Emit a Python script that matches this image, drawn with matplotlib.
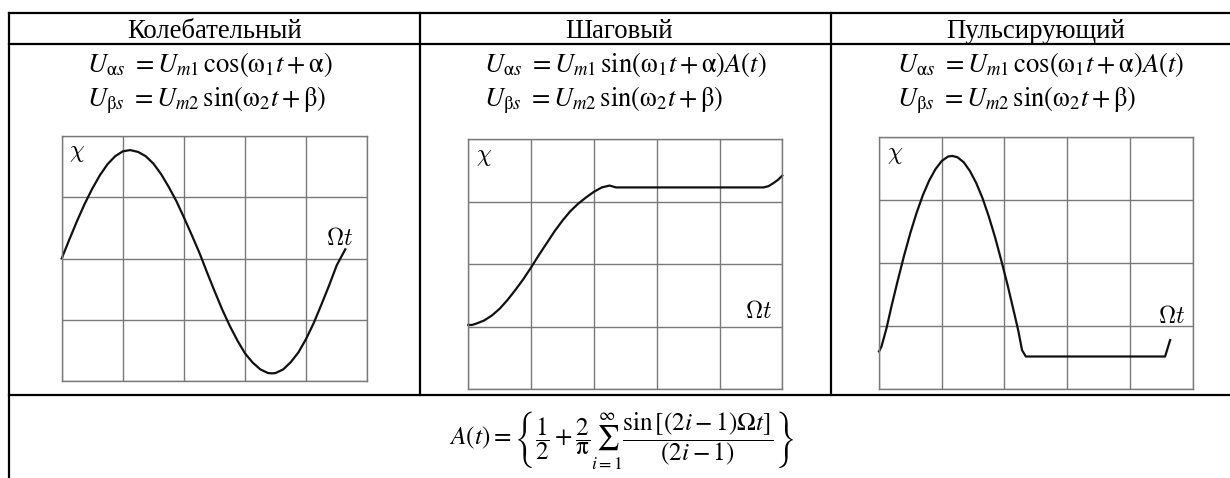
import matplotlib
matplotlib.use('Agg')
from matplotlib import pyplot as plt

plt.rcParams['font.family'] = ['Liberation Serif', 'DejaVu Serif']
plt.rcParams['mathtext.fontset'] = 'stix'

W, H = 1230, 478

headers = ['Колебательный', 'Шаговый', 'Пульсирующий']
formulas_a = [
    r'$U_{\mathrm{\alpha}s}\ =U_{m1}\,\cos(\mathrm{\omega}_1 t+\mathrm{\alpha})$',
    r'$U_{\mathrm{\alpha}s}\ =U_{m1}\,\sin(\mathrm{\omega}_1 t+\mathrm{\alpha})A(t)$',
    r'$U_{\mathrm{\alpha}s}\ =U_{m1}\,\cos(\mathrm{\omega}_1 t+\mathrm{\alpha})A(t)$',
]
formulas_b = [r'$U_{\mathrm{\beta}s}\ =U_{m2}\,\sin(\mathrm{\omega}_2 t+\mathrm{\beta})$'] * 3
sum_formula = (r'$A(t)=\left\{\dfrac{1}{2}+\dfrac{2}{\mathrm{\pi}}\sum_{i=1}^{\infty}'
               r'\dfrac{\sin\left[(2i-1)\Omega t\right]}{(2i-1)}\right\}$')

# curves (grid units: 5 cells wide, 4 cells high)
osc_x = [0, 0.125, 0.25, 0.375, 0.5, 0.625, 0.75, 0.875, 1.0, 1.12, 1.25, 1.375,
         1.5, 1.625, 1.75, 1.875, 2.0, 2.125, 2.25, 2.29, 2.375, 2.5, 2.625, 2.75,
         2.875, 3.0, 3.125, 3.25, 3.375, 3.44, 3.5, 3.625, 3.75, 3.875, 4.0, 4.125,
         4.25, 4.375, 4.5, 4.64]
osc_y = [2.0, 2.31, 2.61, 2.89, 3.14, 3.36, 3.54, 3.67, 3.75, 3.77, 3.74, 3.67,
         3.55, 3.38, 3.17, 2.94, 2.67, 2.39, 2.1, 2.0, 1.78, 1.47, 1.17, 0.9,
         0.66, 0.45, 0.3, 0.19, 0.13, 0.125, 0.13, 0.19, 0.31, 0.47, 0.69, 0.95,
         1.25, 1.56, 1.89, 2.15]

step_x = [0, 0.06, 0.125, 0.25, 0.375, 0.5, 0.625, 0.75, 0.875, 1.0, 1.125, 1.25,
          1.375, 1.5, 1.625, 1.75, 1.875, 2.0, 2.125, 2.25, 2.35, 4.7, 4.78, 4.86,
          4.93, 5.0]
step_y = [1.03, 1.03, 1.05, 1.1, 1.18, 1.29, 1.43, 1.59, 1.76, 1.95, 2.15, 2.34,
          2.53, 2.7, 2.85, 2.97, 3.07, 3.16, 3.23, 3.26, 3.23, 3.23, 3.25, 3.3,
          3.35, 3.42]

pulse_x = [0, 0.04, 0.12, 0.2, 0.3, 0.4, 0.5, 0.6, 0.7, 0.8, 0.9, 1.0, 1.1, 1.165,
           1.25, 1.35, 1.45, 1.55, 1.65, 1.75, 1.85, 1.95, 2.05, 2.15, 2.22, 2.28,
           2.34, 4.56, 4.64]
pulse_y = [0.6, 0.68, 0.97, 1.32, 1.73, 2.12, 2.48, 2.8, 3.08, 3.31, 3.49, 3.62,
           3.69, 3.7, 3.68, 3.6, 3.46, 3.27, 3.03, 2.74, 2.41, 2.04, 1.65, 1.23,
           0.93, 0.62, 0.52, 0.52, 0.78]

curves = [(osc_x, osc_y), (step_x, step_y), (pulse_x, pulse_y)]

# layout in pixels
boxes = [(61.7, 136, 367.3, 381), (468.3, 139.3, 782.3, 389.3), (879, 137, 1192.7, 389.3)]
head_x = [215, 619.5, 1036]
form_x = [87, 484, 897]
omega_pos = [(4.77, 2.22), (4.83, 1.14), (4.88, 1.05)]

fig = plt.figure(figsize=(W / 100, H / 100), dpi=100)
bg = fig.add_axes([0, 0, 1, 1])
bg.set_xlim(0, W)
bg.set_ylim(H, 0)
bg.axis('off')

# table frame
for y in (13, 44, 395):
    bg.plot([9, W], [y, y], color='black', lw=1.6)
bg.plot([9, 9], [13, H], color='black', lw=1.6)
for x in (419.5, 831):
    bg.plot([x, x], [13, 395], color='black', lw=1.6)

for i in range(3):
    bg.text(head_x[i], 37.5, headers[i], ha='center', va='baseline', fontsize=19.3)
    bg.text(form_x[i], 72, formulas_a[i], ha='left', va='baseline', fontsize=19.2)
    bg.text(form_x[i], 106, formulas_b[i], ha='left', va='baseline', fontsize=19.2)

bg.text(621.7, 440, sum_formula, ha='center', va='center', fontsize=18.2)

for i, (x0, y0, x1, y1) in enumerate(boxes):
    ax = fig.add_axes([x0 / W, 1 - y1 / H, (x1 - x0) / W, (y1 - y0) / H])
    ax.set_xlim(0, 5)
    ax.set_ylim(0, 4)
    ax.set_xticks(range(6))
    ax.set_yticks(range(5))
    ax.tick_params(length=0, labelbottom=False, labelleft=False)
    ax.grid(color='#7a7a7a', lw=1.0)
    for s in ax.spines.values():
        s.set_color('#7a7a7a')
        s.set_linewidth(1.0)
    cx, cy = curves[i]
    ax.plot(cx, cy, color='#111111', lw=1.6, clip_on=False, solid_joinstyle='round')
    ax.text(0.12, 3.88, r'$\chi$', ha='left', va='top', fontsize=17, math_fontfamily='cm')
    ax.text(omega_pos[i][0], omega_pos[i][1], r'$\Omega t$', ha='right', va='baseline',
            fontsize=17, math_fontfamily='cm')

fig.savefig('out.png', dpi=100)
